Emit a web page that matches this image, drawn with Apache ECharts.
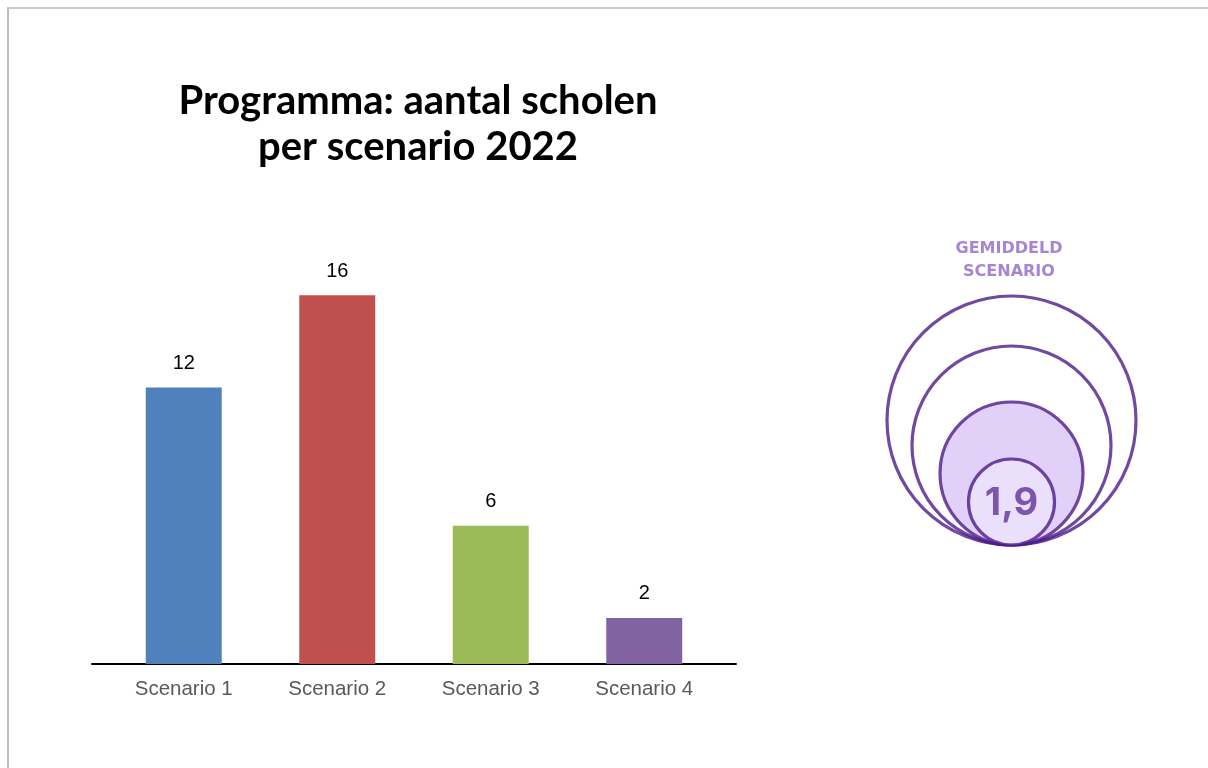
<!DOCTYPE html>
<html>
<head>
<meta charset="utf-8">
<script src="https://cdn.jsdelivr.net/npm/echarts@6/dist/echarts.min.js"></script>
<style>
  html, body { margin: 0; padding: 0; background: #fff; }
  #frame { position: absolute; left: 7px; top: 7px; width: 1201px; height: 761px;
           border-top: 2px solid #cbcbcb; border-left: 2px solid #bdbdbd; box-sizing: border-box; }
  #chart { position: absolute; left: 0; top: 0; width: 1208px; height: 768px; }
</style>
</head>
<body>
<div id="frame"></div>
<div id="chart"></div>
<script>
const titleText = 'Programma: aantal scholen\nper scenario 2022';
const categories = ['Scenario 1', 'Scenario 2', 'Scenario 3', 'Scenario 4'];
const values = [12, 16, 6, 2];
const barColors = ['#4f81bd', '#c0504d', '#9bbb59', '#8064a2'];
const avgTitle = 'GEMIDDELD\nSCENARIO';
const avgValue = '1,9';
const circleRadii = [124.5, 99.5, 71.5, 43];
const circleFills = ['rgba(255,255,255,0)', 'rgba(255,255,255,0)', '#d9c6f6', '#ece3fb'];

const chart = echarts.init(document.getElementById('chart'), null, { renderer: 'canvas' });

const circleData = circleRadii.map((r, i) => ({
  value: [0, r],
  symbolSize: 2 * r,
  itemStyle: { color: circleFills[i], borderColor: '#4c1c8a', borderWidth: 3.2 },
  label: i === circleRadii.length - 1 ? {
    show: true, position: 'inside', formatter: avgValue, offset: [0, 2],
    fontFamily: 'Inter, sans-serif', fontWeight: 'bold', fontSize: 38, color: '#5f3399'
  } : { show: false }
}));

chart.setOption({
  animation: false,
  title: [{
    text: titleText,
    left: 413, top: 73, textAlign: 'center',
    textStyle: { fontFamily: 'Lato, sans-serif', fontWeight: 'bold', fontSize: 40, lineHeight: 46, color: '#000' }
  }, {
    text: avgTitle,
    left: 1004, top: 232, textAlign: 'center',
    textStyle: { fontFamily: 'DejaVu Sans, sans-serif', fontWeight: 'bold', fontSize: 16, lineHeight: 23, color: '#a585d4' }
  }],
  grid: [
    { left: 107, right: 487, top: 203, bottom: 104 },
    { left: 92, right: 472, top: 203, bottom: 104 },
    { left: 887, width: 249, top: 296, height: 249 }
  ],
  xAxis: [
    { type: 'category', data: categories, gridIndex: 0,
      axisLine: { show: false }, axisTick: { show: false },
      axisLabel: { fontFamily: 'Liberation Sans, Arial, sans-serif', fontSize: 20.5, color: '#595959', margin: 15 } },
    { type: 'value', gridIndex: 1, min: 0, max: 1,
      axisLine: { show: true, lineStyle: { color: '#000', width: 2 } },
      axisTick: { show: false }, axisLabel: { show: false }, splitLine: { show: false } },
    { type: 'value', gridIndex: 2, min: -124.5, max: 124.5, show: false }
  ],
  yAxis: [
    { type: 'value', gridIndex: 0, min: 0, max: 20, show: false },
    { type: 'value', gridIndex: 1, min: 0, max: 1, show: false },
    { type: 'value', gridIndex: 2, min: 0, max: 249, show: false }
  ],
  series: [{
    type: 'bar', xAxisIndex: 0, yAxisIndex: 0,
    data: values.map((v, i) => ({ value: v, itemStyle: { color: barColors[i] } })),
    barWidth: '49.5%',
    label: { show: true, position: 'top', distance: 14,
      fontFamily: 'Liberation Sans, Arial, sans-serif', fontSize: 20, color: '#000' }
  }, {
    type: 'scatter', xAxisIndex: 2, yAxisIndex: 2,
    symbol: 'circle',
    data: circleData,
    silent: true
  }]
});
</script>
</body>
</html>
